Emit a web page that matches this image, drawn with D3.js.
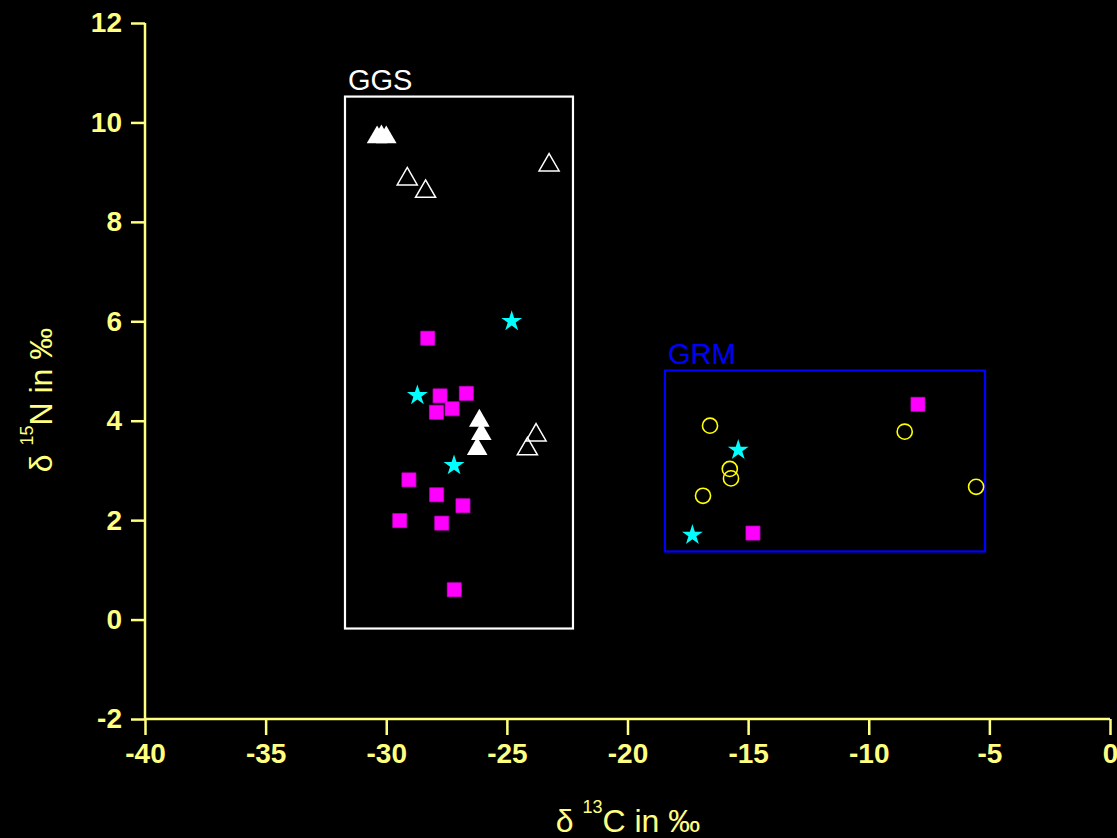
<!DOCTYPE html>
<html><head><meta charset="utf-8">
<script src="https://cdn.jsdelivr.net/npm/d3@7"></script>
<style>html,body{margin:0;padding:0;background:#000;}svg{display:block;}</style>
</head><body>
<svg id="chart" width="1117" height="838"></svg>
<script>
// ---- data ----
const xTicks = [-40,-35,-30,-25,-20,-15,-10,-5,0];
const yTicks = [-2,0,2,4,6,8,10,12];

const triFilledX = [-30.38,-30.2,-30.0,-26.14,-26.06,-26.23];
const triFilledY = [9.70,9.72,9.70,4.0,3.73,3.43];

const triOpenX = [-29.13,-28.37,-23.25,-23.79,-24.15];
const triOpenY = [8.86,8.61,9.14,3.71,3.43];

const squareX = [-28.28,-27.77,-26.68,-27.92,-27.27,-29.06,-27.91,-26.82,-29.44,-27.7,-27.18,-7.96,-14.8];
const squareY = [5.66,4.50,4.55,4.17,4.24,2.81,2.51,2.29,1.99,1.94,0.60,4.33,1.74];

const starX = [-24.8,-28.71,-27.19,-15.41,-17.31];
const starY = [6.0,4.51,3.10,3.41,1.70];

const circleX = [-16.58,-15.76,-15.71,-16.87,-8.51,-5.55];
const circleY = [3.90,3.03,2.84,2.49,3.78,2.67];

const regionNames = ["GGS","GRM"];
const regionX0 = [-31.71,-18.45];
const regionX1 = [-22.26,-5.18];
const regionY0 = [-0.18,1.37];
const regionY1 = [10.52,5.01];
const regionColors = ["#ffffff","#0000ff"];

// ---- chart ----
const axisColor = "#ffff80";
const font = "'Liberation Sans', Arial, sans-serif";
const svg = d3.select("#chart");
svg.append("rect").attr("width",1117).attr("height",838).attr("fill","#000");

const x = d3.scaleLinear().domain([-40,0]).range([145,1110]);
const y = d3.scaleLinear().domain([-2,12]).range([719,23]);

// axes
const xAxis = svg.append("g").attr("transform","translate(0,719)")
  .call(d3.axisBottom(x).tickValues(xTicks).tickSize(16).tickPadding(8).tickFormat(d=>String(d)));
const yAxis = svg.append("g").attr("transform","translate(145,0)")
  .call(d3.axisLeft(y).tickValues(yTicks).tickSize(14).tickPadding(9).tickFormat(d=>String(d)));
[xAxis,yAxis].forEach(g=>{
  g.select(".domain").attr("stroke",axisColor).attr("stroke-width",2.5);
  g.selectAll(".tick line").attr("stroke",axisColor).attr("stroke-width",2.5);
  g.selectAll(".tick text").attr("fill",axisColor)
    .attr("font-family",font).attr("font-weight","bold").attr("font-size",28);
});
xAxis.select(".domain").attr("d",`M${x(-40)},0H${x(0)}`);
yAxis.select(".domain").attr("d",`M0,${y(-2)}V${y(12)}`);

// axis titles
const xt = svg.append("text").attr("x",628).attr("y",832).attr("text-anchor","middle")
  .attr("fill",axisColor).attr("font-family",font).attr("font-size",32);
xt.append("tspan").text("δ ");
xt.append("tspan").attr("font-size",18).attr("dy",-19).text("13");
xt.append("tspan").attr("dy",19).text("C in ‰");

const yt = svg.append("text").attr("transform","translate(52,400) rotate(-90)").attr("text-anchor","middle")
  .attr("fill",axisColor).attr("font-family",font).attr("font-size",32);
yt.append("tspan").text("δ ");
yt.append("tspan").attr("font-size",18).attr("dy",-19).text("15");
yt.append("tspan").attr("dy",19).text("N in ‰");

// regions
regionNames.forEach((n,i)=>{
  svg.append("rect")
    .attr("x",x(regionX0[i])).attr("y",y(regionY1[i]))
    .attr("width",x(regionX1[i])-x(regionX0[i])).attr("height",y(regionY0[i])-y(regionY1[i]))
    .attr("fill","none").attr("stroke",regionColors[i]).attr("stroke-width",2.2);
  svg.append("text").attr("x",x(regionX0[i])+3).attr("y",y(regionY1[i])-7)
    .attr("fill",regionColors[i]).attr("font-family",font)
    .attr("font-size",29).text(n);
});

function plot(xs, ys, type, size, fill, stroke, sw){
  const sym = d3.symbol().type(type).size(size);
  svg.append("g").selectAll("path").data(xs.map((v,i)=>[v,ys[i]])).join("path")
    .attr("transform",d=>`translate(${x(d[0])},${y(d[1])})`)
    .attr("d",sym).attr("fill",fill).attr("stroke",stroke).attr("stroke-width",sw);
}
plot(triOpenX, triOpenY, d3.symbolTriangle, 175, "none", "#ffffff", 1.5);
plot(circleX, circleY, d3.symbolCircle, 180, "none", "#ffff00", 1.6);
plot(squareX, squareY, d3.symbolSquare, 196, "#ff00ff", "#cc00cc", 0.8);
plot(triFilledX, triFilledY, d3.symbolTriangle, 185, "#ffffff", "none", 0);
plot(starX, starY, d3.symbolStar, 135, "#00ffff", "none", 0);
</script>
</body></html>
